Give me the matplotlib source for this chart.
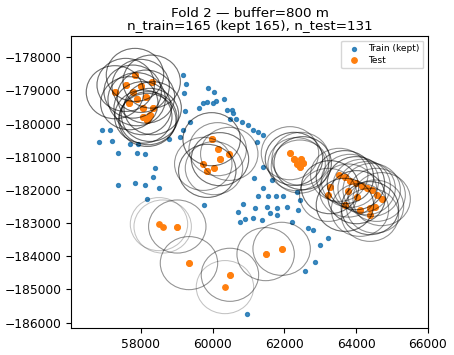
import numpy as np
import matplotlib
matplotlib.use("Agg")
import matplotlib.pyplot as plt
from matplotlib.patches import Circle

buffer_m = 800
fold = 2

# kept training points (x, y)
train_x = [59171, 59254, 59198, 59226, 59162, 59087, 58789, 56905, 57136, 56838,
           57183, 57693, 57925, 57367, 57880, 58111, 59736, 59848, 59630, 59876,
           59366, 60043, 60015, 60090, 60313, 60388, 60528, 60556, 60480, 60648,
           60806, 60990, 61130, 61269, 61225, 61409, 58390, 58326, 58510, 61149,
           61409, 61643, 61400, 61261, 61539, 61762, 61958, 62339, 61177, 61503,
           61782, 62061, 61595, 61782, 62384, 61130, 61364, 62200, 62663, 62802,
           63220, 62431, 57367, 57833, 58111, 58159, 59756, 60851, 60712, 60759,
           60898, 62849, 62571, 60963, 62989]
train_y = [-178548, -178804, -179090, -179608, -180190, -180410, -180470, -180190, -180190, -180560,
           -180521, -180611, -180611, -180892, -180892, -180913, -179386, -179337, -179536, -178934,
           -179940, -179054, -179367, -179307, -179265, -179587, -179587, -179687, -179867, -179867,
           -179940, -180039, -180190, -180241, -180542, -180340, -181343, -181596, -181946, -181645,
           -181295, -181696, -181946, -182178, -182178, -182178, -182178, -182048, -182548, -182500,
           -182548, -182500, -182699, -182750, -182599, -182849, -182901, -182952, -183150, -183202,
           -183452, -182298, -181846, -181777, -181846, -182277, -182449, -182419, -182651, -182952,
           -182879, -184157, -184428, -185741, -183654]

# test points (x, y) and how many samples sit on each location
test_x = [57833, 57574, 57992, 58298, 57275, 57769, 58139, 57880, 57674, 58047,
          58326, 58064, 58203, 58251, 58176,
          59970, 60138, 60461, 60202, 59736, 60035, 59848,
          62153, 62264, 62451, 62339, 62431, 62507,
          63527, 63685, 63825, 63992, 64151, 64290, 64430, 64569, 64708, 63267,
          63220, 63777, 64012, 63685, 64104, 64382, 64522, 64382,
          58502, 58605, 59012, 59338, 60480, 60341, 61475, 61921]
test_y = [-178533, -178834, -178864, -178735, -179054, -179036, -179187, -179265, -179386, -179536,
          -179536, -179789, -179837, -179738, -179889,
          -180470, -180771, -180913, -181072, -181214, -181343, -181425,
          -180892, -181063, -181063, -181223, -181295, -181193,
          -181545, -181614, -181726, -181795, -181876, -181946, -181997, -182148, -182277, -181916,
          -182148, -182018, -182217, -182449, -182599, -182548, -182500, -182750,
          -183030, -183102, -183102, -184205, -184557, -184928, -183934, -183774]
test_n = [3, 3, 3, 3, 3, 3, 3, 3, 3, 3, 3, 3, 3, 3, 3,
          3, 2, 2, 3, 2, 2, 3,
          2, 3, 2, 2, 2, 3,
          2, 3, 2, 3, 2, 2, 2, 2, 2, 3,
          2, 2, 3, 3, 2, 3, 2, 2,
          1, 1, 2, 2, 2, 1, 2, 2]

tx = np.repeat(test_x, test_n)
ty = np.repeat(test_y, test_n)

fig = plt.figure(figsize=(4.54, 3.55), dpi=100)
ax = fig.add_axes([0.1564, 0.0761, 0.7863, 0.8225])

ax.scatter(train_x, train_y, s=8, color="tab:blue", alpha=0.85, label="Train (kept)", zorder=2)
ax.scatter(tx, ty, s=15, color="tab:orange", label="Test", zorder=2)

for x, y in zip(tx, ty):
    ax.add_patch(Circle((x, y), buffer_m, fill=False, edgecolor="black",
                        alpha=0.24, linewidth=0.75, zorder=3))

ax.set_xlim(56050, 66000)
ax.set_ylim(-186160, -177360)
ax.set_xticks(np.arange(58000, 66001, 2000))
ax.set_yticks(np.arange(-186000, -177999, 1000))
ax.tick_params(labelsize=8.8)

ax.set_title(f"Fold {fold} \u2014 buffer={buffer_m} m\n"
             f"n_train=165 (kept 165), n_test={len(tx)}", fontsize=9.7, linespacing=1.0, pad=4)
ax.legend(loc="upper right", fontsize=6.5, markerscale=1.0, borderpad=0.4,
          handletextpad=0.6, labelspacing=0.3)

fig.savefig("out.png", dpi=100)
